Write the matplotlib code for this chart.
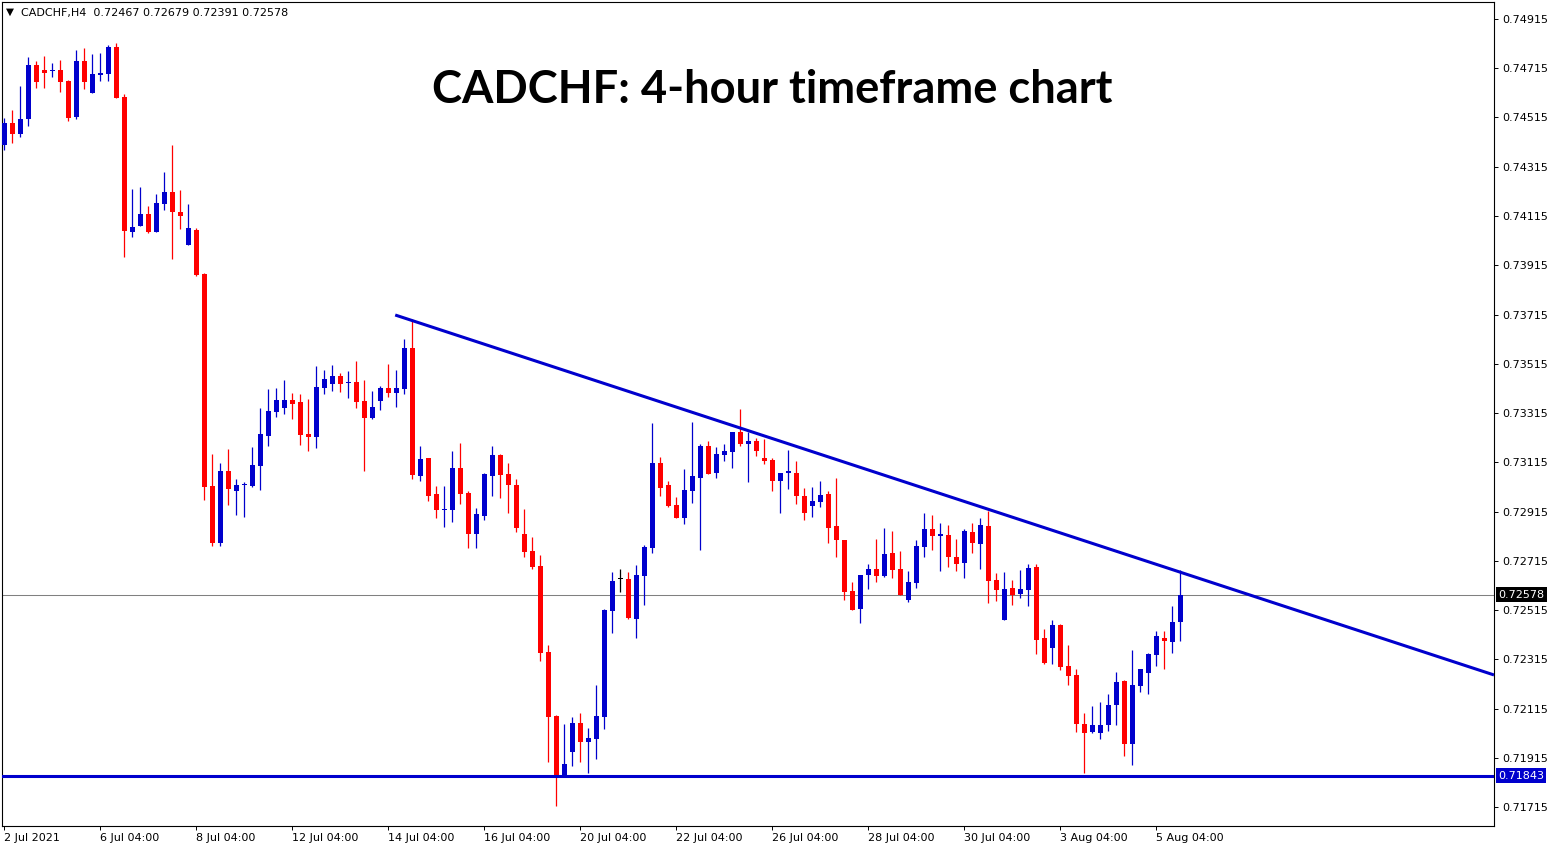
import matplotlib
matplotlib.use('Agg')
import matplotlib.pyplot as plt
import numpy as np

# CADCHF H4 candles, 2 Jul 2021 04:00 .. 5 Aug 2021
opens = [0.74403, 0.74491, 0.74449, 0.74509, 0.74728, 0.74708, 0.74703, 0.74708, 0.74664, 0.74517,
         0.74744, 0.74616, 0.74689, 0.74693, 0.74801, 0.74598, 0.74051, 0.74076, 0.74123, 0.74051,
         0.74165, 0.74212, 0.74131, 0.73999, 0.74058, 0.73880, 0.73019, 0.72789, 0.73080, 0.73000,
         0.73021, 0.73019, 0.73100, 0.73222, 0.73319, 0.73336, 0.73368, 0.73360, 0.73230, 0.73218,
         0.73417, 0.73433, 0.73465, 0.73437, 0.73441, 0.73364, 0.73295, 0.73364, 0.73417, 0.73396,
         0.73413, 0.73579, 0.73061, 0.73133, 0.72986, 0.72922, 0.72921, 0.73092, 0.72990, 0.72824,
         0.72897, 0.73060, 0.73145, 0.73068, 0.73023, 0.72824, 0.72755, 0.72694, 0.72345, 0.72086,
         0.71843, 0.71940, 0.72057, 0.71981, 0.71993, 0.72082, 0.72513, 0.72640, 0.72641, 0.72479,
         0.72655, 0.72768, 0.73112, 0.73023, 0.72942, 0.72890, 0.73000, 0.73053, 0.73181, 0.73073,
         0.73145, 0.73157, 0.73238, 0.73189, 0.73201, 0.73133, 0.73124, 0.73040, 0.73073, 0.73072,
         0.72978, 0.72939, 0.72954, 0.72986, 0.72856, 0.72801, 0.72593, 0.72521, 0.72659, 0.72682,
         0.72655, 0.72747, 0.72682, 0.72557, 0.72626, 0.72772, 0.72844, 0.72817, 0.72820, 0.72731,
         0.72707, 0.72832, 0.72785, 0.72856, 0.72637, 0.72476, 0.72605, 0.72582, 0.72598, 0.72690,
         0.72402, 0.72359, 0.72455, 0.72288, 0.72252, 0.72054, 0.72021, 0.72017, 0.72050, 0.72131,
         0.72227, 0.71969, 0.72208, 0.72261, 0.72334, 0.72402, 0.72387, 0.72467]
highs = [0.74513, 0.74545, 0.74643, 0.74762, 0.74744, 0.74765, 0.74737, 0.74748, 0.74667, 0.74789,
         0.74796, 0.74773, 0.74776, 0.74809, 0.74819, 0.74609, 0.74225, 0.74233, 0.74156, 0.74204,
         0.74294, 0.74403, 0.74221, 0.74164, 0.74068, 0.73884, 0.73149, 0.73112, 0.73169, 0.73047,
         0.73035, 0.73177, 0.73336, 0.73413, 0.73417, 0.73449, 0.73396, 0.73392, 0.73372, 0.73506,
         0.73490, 0.73510, 0.73478, 0.73486, 0.73526, 0.73449, 0.73405, 0.73425, 0.73514, 0.73490,
         0.73616, 0.73697, 0.73181, 0.73133, 0.73019, 0.73019, 0.73161, 0.73193, 0.72998, 0.72930,
         0.73072, 0.73181, 0.73149, 0.73112, 0.73047, 0.72925, 0.72812, 0.72739, 0.72373, 0.72089,
         0.72053, 0.72081, 0.72097, 0.72036, 0.72211, 0.72519, 0.72670, 0.72682, 0.72670, 0.72698,
         0.72779, 0.73275, 0.73137, 0.73039, 0.72974, 0.73088, 0.73279, 0.73189, 0.73201, 0.73177,
         0.73189, 0.73238, 0.73331, 0.73238, 0.73214, 0.73210, 0.73133, 0.73073, 0.73165, 0.73120,
         0.73011, 0.73015, 0.73039, 0.72998, 0.73051, 0.72801, 0.72629, 0.72658, 0.72702, 0.72804,
         0.72848, 0.72836, 0.72755, 0.72674, 0.72800, 0.72909, 0.72901, 0.72869, 0.72861, 0.72804,
         0.72844, 0.72869, 0.72889, 0.72917, 0.72666, 0.72670, 0.72637, 0.72678, 0.72702, 0.72702,
         0.72438, 0.72475, 0.72459, 0.72373, 0.72276, 0.72097, 0.72126, 0.72142, 0.72174, 0.72264,
         0.72231, 0.72353, 0.72276, 0.72341, 0.72430, 0.72430, 0.72532, 0.72679]
lows = [0.74383, 0.74413, 0.74437, 0.74480, 0.74636, 0.74636, 0.74681, 0.74620, 0.74502, 0.74510,
        0.74631, 0.74616, 0.74664, 0.74664, 0.74595, 0.73950, 0.74031, 0.74076, 0.74047, 0.74051,
        0.74139, 0.73942, 0.74064, 0.73999, 0.73872, 0.72962, 0.72777, 0.72777, 0.72942, 0.72901,
        0.72894, 0.73015, 0.73003, 0.73181, 0.73299, 0.73311, 0.73291, 0.73185, 0.73161, 0.73173,
        0.73392, 0.73405, 0.73401, 0.73376, 0.73336, 0.73080, 0.73291, 0.73327, 0.73380, 0.73340,
        0.73392, 0.73047, 0.73039, 0.72958, 0.72889, 0.72852, 0.72873, 0.72946, 0.72767, 0.72767,
        0.72881, 0.72978, 0.72970, 0.72909, 0.72832, 0.72731, 0.72682, 0.72310, 0.71899, 0.71721,
        0.71843, 0.71883, 0.71899, 0.71855, 0.71912, 0.72033, 0.72423, 0.72588, 0.72479, 0.72403,
        0.72536, 0.72748, 0.72978, 0.72934, 0.72890, 0.72866, 0.72951, 0.72760, 0.73069, 0.73053,
        0.73120, 0.73092, 0.73181, 0.73036, 0.73141, 0.73108, 0.73000, 0.72910, 0.73008, 0.72946,
        0.72882, 0.72894, 0.72934, 0.72789, 0.72732, 0.72557, 0.72517, 0.72464, 0.72602, 0.72630,
        0.72651, 0.72647, 0.72574, 0.72549, 0.72606, 0.72732, 0.72760, 0.72675, 0.72691, 0.72675,
        0.72647, 0.72748, 0.72683, 0.72545, 0.72553, 0.72476, 0.72536, 0.72565, 0.72533, 0.72338,
        0.72297, 0.72294, 0.72273, 0.72212, 0.72021, 0.71855, 0.72017, 0.71993, 0.72025, 0.72050,
        0.71924, 0.71887, 0.72184, 0.72172, 0.72289, 0.72277, 0.72342, 0.72391]
closes = [0.74491, 0.74449, 0.74509, 0.74728, 0.74660, 0.74697, 0.74705, 0.74660, 0.74514, 0.74744,
          0.74660, 0.74692, 0.74697, 0.74801, 0.74595, 0.74055, 0.74070, 0.74123, 0.74051, 0.74168,
          0.74212, 0.74132, 0.74116, 0.74066, 0.73876, 0.73016, 0.72789, 0.73080, 0.73008, 0.73023,
          0.73023, 0.73104, 0.73230, 0.73325, 0.73368, 0.73368, 0.73352, 0.73226, 0.73218, 0.73421,
          0.73453, 0.73465, 0.73433, 0.73441, 0.73360, 0.73295, 0.73340, 0.73417, 0.73396, 0.73417,
          0.73579, 0.73064, 0.73129, 0.72979, 0.72921, 0.72925, 0.73092, 0.72986, 0.72824, 0.72905,
          0.73068, 0.73145, 0.73064, 0.73023, 0.72848, 0.72751, 0.72690, 0.72342, 0.72082, 0.71843,
          0.71890, 0.72057, 0.71981, 0.71996, 0.72085, 0.72515, 0.72633, 0.72640, 0.72483, 0.72658,
          0.72771, 0.73112, 0.73012, 0.72938, 0.72890, 0.73003, 0.73060, 0.73181, 0.73069, 0.73149,
          0.73161, 0.73238, 0.73189, 0.73201, 0.73161, 0.73120, 0.73040, 0.73073, 0.73076, 0.72979,
          0.72910, 0.72958, 0.72982, 0.72850, 0.72801, 0.72590, 0.72517, 0.72658, 0.72682, 0.72655,
          0.72743, 0.72679, 0.72574, 0.72629, 0.72775, 0.72844, 0.72817, 0.72824, 0.72732, 0.72703,
          0.72836, 0.72789, 0.72861, 0.72634, 0.72598, 0.72601, 0.72576, 0.72601, 0.72686, 0.72395,
          0.72300, 0.72455, 0.72285, 0.72249, 0.72054, 0.72017, 0.72048, 0.72048, 0.72130, 0.72223,
          0.71973, 0.72211, 0.72276, 0.72337, 0.72410, 0.72391, 0.72467, 0.72578]

date_ticks = [0, 12, 24, 36, 48, 60, 72, 84, 96, 108, 120, 132, 144]
date_labels = ['2 Jul 2021', '6 Jul 04:00', '8 Jul 04:00', '12 Jul 04:00', '14 Jul 04:00',
               '16 Jul 04:00', '20 Jul 04:00', '22 Jul 04:00', '26 Jul 04:00', '28 Jul 04:00',
               '30 Jul 04:00', '3 Aug 04:00', '5 Aug 04:00']
price_ticks = [0.74915, 0.74715, 0.74515, 0.74315, 0.74115, 0.73915, 0.73715, 0.73515, 0.73315,
               0.73115, 0.72915, 0.72715, 0.72515, 0.72315, 0.72115, 0.71915, 0.71715]

support = 0.71843
trend_idx = [48.9, 147]
trend_px = [0.73713, 0.72669]

RED = '#ff0000'
BLUE = '#0000cc'
LINE_BLUE = '#0000cd'

W, H = 1558, 850
fig = plt.figure(figsize=(W / 100, H / 100), dpi=100)
ax = fig.add_axes([2 / W, 24 / H, 1492 / W, 824 / H])

o = np.array(opens)
h = np.array(highs)
l = np.array(lows)
c = np.array(closes)
x = np.arange(len(o))
col = np.where(c > o, BLUE, np.where(c < o, RED, 'black'))

# wicks and bodies
ax.vlines(x, l, h, colors=col, linewidth=0.9, zorder=2)
body_h = np.maximum(np.abs(c - o), 0.00005)
ax.bar(x, body_h, bottom=np.minimum(o, c), width=0.625, color=col, linewidth=0, zorder=3)

# bid line, support and falling trend line
last = closes[-1]
ax.axhline(last, color='#808080', linewidth=0.75, zorder=1)
ax.axhline(support, color=LINE_BLUE, linewidth=2.2, zorder=4)

xmin, xmax = -0.25, 186.25
slope = (trend_px[1] - trend_px[0]) / (trend_idx[1] - trend_idx[0])
y_end = trend_px[0] + slope * (xmax - trend_idx[0])
ax.plot([trend_idx[0], xmax], [trend_px[0], y_end], color=LINE_BLUE, linewidth=2.2,
        solid_capstyle='butt', zorder=4)

ax.set_xlim(xmin, xmax)
ax.set_ylim(0.71638, 0.74984)

for s in ax.spines.values():
    s.set_linewidth(0.8)
    s.set_color('black')
ax.yaxis.tick_right()
ax.set_yticks(price_ticks)
ax.set_yticklabels([f'{p:.5f}' for p in price_ticks])
ax.tick_params(axis='y', direction='out', length=3, width=0.7, pad=3, labelsize=8)
ax.set_xticks(date_ticks)
ax.set_xticklabels(date_labels, ha='left')
ax.tick_params(axis='x', direction='out', length=3, width=0.7, pad=2, labelsize=8)

# price boxes on the right scale
ax.annotate(f'{last:.5f}', xy=(1, last), xycoords=('axes fraction', 'data'),
            xytext=(3, 0), textcoords='offset points', va='center', ha='left',
            fontsize=8, color='white',
            bbox=dict(boxstyle='square,pad=0.2', fc='black', ec='none'))
ax.annotate(f'{support:.5f}', xy=(1, support), xycoords=('axes fraction', 'data'),
            xytext=(3, 0), textcoords='offset points', va='center', ha='left',
            fontsize=8, color='white',
            bbox=dict(boxstyle='square,pad=0.2', fc=LINE_BLUE, ec='none'))

# header and title
fig.text(6 / W, 1 - 15 / H, '\u25bc', fontsize=7.5, va='baseline')
fig.text(21 / W, 1 - 16 / H,
         f'CADCHF,H4  {opens[-1]:.5f} {highs[-1]:.5f} {lows[-1]:.5f} {closes[-1]:.5f}',
         fontsize=8, va='baseline')
fig.text(772 / W, 1 - 103 / H, 'CADCHF: 4-hour timeframe chart', fontsize=32.6,
         fontweight='bold', family='Lato', ha='center', va='baseline')

fig.savefig('out.png', dpi=100)
